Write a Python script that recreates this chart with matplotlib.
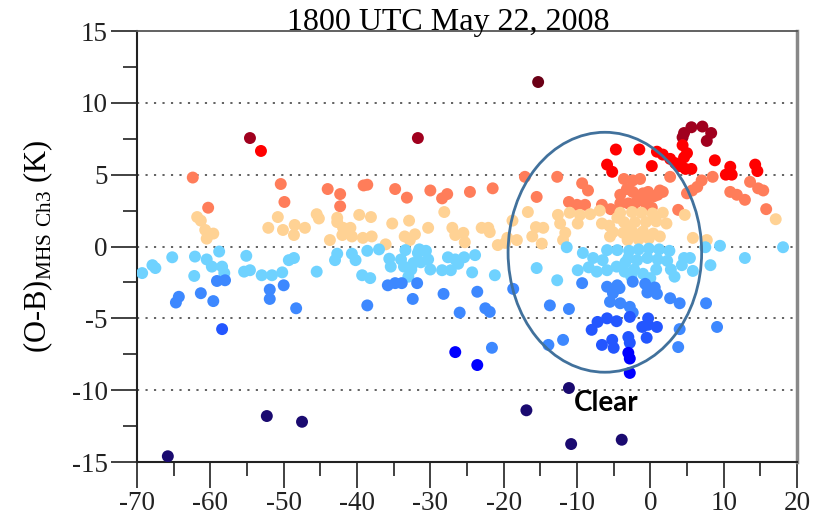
import matplotlib.pyplot as plt
from matplotlib.patches import Ellipse

# fonts: Times-like serif for axes, mathtext subscript in the same face
plt.rcParams['font.family'] = ['Liberation Serif', 'DejaVu Serif']
plt.rcParams['mathtext.fontset'] = 'custom'
plt.rcParams['mathtext.rm'] = 'Liberation Serif'
plt.rcParams['axes.unicode_minus'] = False

# O-B departures grouped by colour class
maroon_x = [-15.3]
maroon_y = [11.45]

darkred_x = [-54.6, -31.7, 4.6, 5.6, 7.1, 8.3, 7.7, 4.4]
darkred_y = [7.55, 7.55, 7.9, 8.3, 8.35, 7.9, 7.35, 7.6]

red_x = [-53.1, -4.7, -1.5, -5.9, -5.2, 0.2, 0.9, 1.7, 2.7, 3.4, 4.0, 4.8, 5.6,
         4.4, 5.0, 4.6, 8.8, 10.9, 10.3, 11.1, 14.3, 14.6]
red_y = [6.65, 6.75, 6.75, 5.7, 5.2, 5.6, 6.6, 6.4, 6.1, 5.8, 5.6, 5.4, 5.4,
         7.05, 6.5, 6.2, 6.0, 5.55, 5.0, 5.0, 5.7, 5.25]

coral_x = [-62.4, -60.3, -50.4, -49.9, -44.0, -42.3, -42.3, -39.1, -38.6, -34.8,
           -33.2, -30.0, -28.4, -27.7, -24.6, -21.5, -17.1, -15.5, -12.7, -9.3,
           -8.5, -11.1, -10.0, -8.9, -6.6, -3.6, -2.4, -1.4, -4.1, -3.2,
           -2.4, -3.0, -1.9, -1.2, -0.3, 0.5, -0.6, 1.3, 2.7, 3.8,
           5.0, 5.7, 6.4, 7.0, 8.5, 10.9, 11.8, 12.9, 13.6, 14.7,
           15.4, 15.8, -1.0, -0.5, 1.0, 1.7, -4.1, -2.4, -5.4, 0.2]
coral_y = [4.8, 2.7, 4.35, 3.1, 4.0, 3.65, 2.8, 4.25, 4.3, 4.0,
           3.4, 3.9, 3.35, 3.65, 3.8, 4.05, 4.85, 3.45, 4.85, 4.4,
           3.9, 3.1, 2.9, 2.9, 2.9, 4.7, 4.6, 4.7, 3.6, 4.0,
           3.8, 3.0, 3.1, 3.4, 3.8, 3.5, 3.0, 3.9, 4.85, 2.55,
           3.7, 3.9, 4.15, 4.6, 4.85, 3.8, 3.6, 3.25, 4.5, 4.05,
           3.9, 2.6, 3.7, 3.25, 3.6, 3.8, 3.0, 2.75, 2.6, 2.7]

orange_x = [-61.8, -61.3, -60.7, -59.6, -60.5, -50.8, -52.1, -50.1, -48.5, -48.6,
            -47.1, -45.5, -45.2, -42.7, -42.7, -41.9, -40.9, -42.0, -40.7, -43.7,
            -39.7, -38.1, -39.2, -38.0, -36.1, -35.2, -32.9, -33.5, -32.8, -32.1,
            -30.3, -28.1, -27.0, -26.6, -25.5, -25.3, -23.0, -22.1, -21.9, -20.8,
            -19.5, -18.2, -19.8, -18.8, -16.7, -15.6, -14.6, -16.1, -14.8, -12.6,
            -12.3, -11.6, -11.9, -11.0, -9.6, -9.9, -8.2, -6.9, -6.6, -5.6,
            -5.1, -5.5, -4.1, -2.5, -1.2, 0.3, 1.7, -3.6, -2.1, -0.6,
            0.8, 2.2, -3.7, -2.4, -1.0, 0.4, -3.1, -1.6, -0.2, 1.3,
            -4.5, -3.0, 4.7, 5.8, 7.7, 17.1]
orange_y = [2.05, 1.8, 1.15, 0.9, 0.55, 2.05, 1.3, 1.15, 1.5, 0.8,
            1.3, 2.25, 1.95, 2.0, 1.7, 1.3, 1.3, 0.8, 0.7, 0.45,
            2.2, 2.05, 0.6, 0.7, 0.15, 1.6, 1.8, 0.7, 0.45, 0.85,
            1.3, 2.4, 1.3, 0.8, 0.95, 0.3, 1.3, 1.3, 1.0, 0.1,
            0.6, 0.45, 0.25, 1.8, 2.4, 1.35, 1.3, 0.7, 0.2, 2.2,
            1.6, 0.95, 0.45, 2.35, 2.2, 1.6, 2.25, 2.5, 1.6, 1.45,
            1.0, 0.7, 2.35, 2.4, 2.35, 2.3, 2.35, 1.7, 1.7, 1.7,
            1.75, 1.6, 0.95, 1.0, 1.05, 0.9, 0.45, 0.5, 0.55, 0.7,
            2.0, 1.3, 2.2, 0.6, 0.45, 1.9]

ltblue_x = [-69.3, -67.9, -67.5, -65.2, -62.1, -60.5, -58.8, -59.8, -58.4, -58.1,
            -62.2, -55.1, -55.4, -54.6, -53.0, -51.6, -50.2, -49.3, -48.6, -45.5,
            -42.7, -40.7, -38.6, -37.0, -43.0, -40.2, -39.3, -38.2, -35.6, -33.4,
            -34.0, -35.4, -33.6, -32.6, -32.3, -31.7, -33.0, -31.5, -30.6, -30.3,
            -30.0, -31.3, -28.4, -27.2, -27.6, -26.6, -25.4, -23.9, -24.3, -26.2,
            -21.2, -15.5, -12.7, -11.4, -9.2, -7.8, -6.5, -5.9, -4.5, -9.9,
            -8.4, -7.3, -5.9, -4.6, -3.4, -2.9, -1.6, -0.2, 1.2, 2.6,
            -3.0, -1.8, -0.4, 1.0, -3.5, -2.2, -1.0, 0.8, 2.3, 2.8,
            3.3, 4.3, 4.6, 5.4, 5.8, -2.6, 0.0, 7.5, 9.5, 8.2,
            12.9, 18.1]
ltblue_y = [-1.85, -1.3, -1.5, -0.75, -0.7, -0.9, -0.35, -1.4, -1.4, -1.85,
            -2.05, -0.65, -1.75, -1.65, -2.0, -2.0, -1.8, -0.95, -0.8, -1.75,
            -0.5, -0.5, -0.3, -0.2, -0.95, -0.95, -2.0, -2.2, -0.85, -0.25,
            -0.9, -1.4, -1.4, -1.6, -1.15, -0.45, -2.1, -0.2, -0.3, -0.9,
            -1.6, -1.1, -1.65, -1.65, -0.75, -0.9, -0.75, -0.6, -1.8, -1.2,
            -2.0, -1.5, -2.35, -0.05, -0.45, -0.8, -0.95, -0.25, -0.25, -1.65,
            -1.45, -1.75, -1.65, -1.4, -1.1, -0.3, -0.2, -0.15, -0.2, -0.3,
            -0.8, -0.95, -0.8, -0.9, -1.75, -1.6, -1.9, -1.6, -1.0, -1.6,
            -2.1, -1.3, -0.8, -0.8, -1.7, -2.1, -2.2, -0.05, 0.05, -1.3,
            -0.8, -0.05]

midblue_x = [-64.3, -64.7, -61.3, -59.6, -59.1, -58.0, -51.9, -51.9, -50.0, -48.3,
             -38.6, -35.8, -34.8, -33.9, -31.8, -32.4, -28.2, -26.0, -23.6, -22.5,
             -21.9, -18.7, -13.7, -11.1, -9.3, -5.9, -4.5, -5.1, -4.2, -2.4,
             -0.7, 0.6, 0.9, -0.4, -5.5, -4.1, -2.8, -2.4, 2.7, 4.0,
             7.6, -21.6, -13.9, -11.9, 3.8, 4.0, 9.1]
midblue_y = [-3.5, -3.9, -3.25, -3.8, -2.4, -2.35, -3.0, -3.65, -2.7, -4.3,
             -4.1, -2.7, -2.55, -2.55, -2.55, -3.65, -3.3, -4.6, -3.15, -4.3,
             -4.55, -2.95, -4.1, -4.35, -2.55, -2.8, -2.7, -3.25, -2.9, -2.45,
             -2.6, -2.85, -3.3, -3.2, -3.85, -3.95, -4.2, -4.6, -3.6, -3.95,
             -3.95, -7.05, -6.85, -6.5, -7.0, -5.75, -5.6]

brblue_x = [-58.4, -8.0, -7.2, -5.9, -4.6, -6.6, -5.2, -5.0, -2.8, -0.3,
            -1.1, -0.3, 0.9, -0.5, -3.0, -2.8]
brblue_y = [-5.75, -5.8, -5.25, -5.0, -5.2, -6.85, -6.5, -7.05, -4.9, -5.0,
            -5.6, -5.45, -5.6, -6.35, -6.3, -6.7]

blue_x = [-26.6, -23.6, -3.0, -2.8, -2.8]
blue_y = [-7.35, -8.25, -7.4, -7.8, -8.8]

navy_x = [-65.8, -52.3, -47.5, -11.1, -16.9, -10.8, -3.9]
navy_y = [-14.6, -11.8, -12.2, -9.85, -11.4, -13.75, -13.45]

groups = [
    (maroon_x, maroon_y, '#6b0016'),
    (darkred_x, darkred_y, '#a0001e'),
    (red_x, red_y, '#ff0000'),
    (coral_x, coral_y, '#ff7d5a'),
    (orange_x, orange_y, '#ffd294'),
    (ltblue_x, ltblue_y, '#6fd2ff'),
    (midblue_x, midblue_y, '#3d88ff'),
    (brblue_x, brblue_y, '#2356ff'),
    (blue_x, blue_y, '#0000ff'),
    (navy_x, navy_y, '#1a0a70'),
]

fig = plt.figure(figsize=(8.27, 5.15), dpi=100)
ax = fig.add_axes([0.1657, 0.1029, 0.798, 0.8369])

# dotted reference lines
for yv in [-10, -5, 0, 5, 10]:
    ax.axhline(yv, color='#555555', linestyle=(0, (1.2, 3.5)), linewidth=1.3, zorder=1)

for gx, gy, c in groups:
    ax.scatter(gx, gy, s=74, color=c, edgecolors='none', zorder=3)

# highlight the clear-sky cluster
ell = Ellipse((-6.2, -0.4), 26.4, 16.7, fill=False, edgecolor='#41719c', linewidth=2, zorder=4)
ax.add_patch(ell)
ax.text(-6.0, -10.9, 'Clear', family=['Lato', 'DejaVu Sans'], fontweight='bold',
        fontsize=20, ha='center', va='center', zorder=5)

ax.set_xlim(-70, 20)
ax.set_ylim(-15, 15)
ax.set_xticks(range(-70, 21, 10))
ax.set_xticklabels([str(v) for v in range(-70, 21, 10)])
ax.set_yticks(range(-15, 16, 5))
ax.set_yticklabels([str(v) for v in range(-15, 16, 5)])
ax.set_xticks(range(-65, 20, 10), minor=True)
ax.set_yticks([-12.5, -7.5, -2.5, 2.5, 7.5, 12.5], minor=True)
ax.tick_params(which='major', direction='out', length=19, width=1.3, labelsize=19.5, pad=2,
               color='#333333', labelcolor='#222222')
ax.tick_params(which='minor', direction='out', length=10, width=1.3, color='#333333')

for side in ['left', 'bottom']:
    ax.spines[side].set_color('#222222')
    ax.spines[side].set_linewidth(1.5)
ax.spines['top'].set_color('#555555')
ax.spines['top'].set_linewidth(1.3)
ax.spines['right'].set_color('#888888')
ax.spines['right'].set_linewidth(2.5)

ax.set_ylabel(r'(O-B)$_{\mathrm{MHS\ Ch3}}$ (K)', fontsize=22, labelpad=12)
fig.text(0.542, 0.957, '1800 UTC May 22, 2008', fontsize=23, ha='center', va='center')

plt.savefig('out.png', dpi=100)
